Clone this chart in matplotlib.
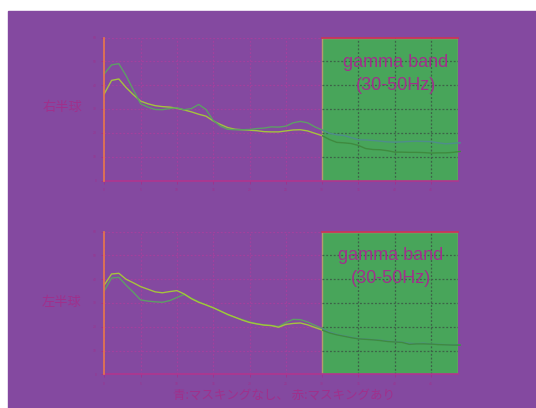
import numpy as np
import matplotlib
matplotlib.use("Agg")
import matplotlib.pyplot as plt
from matplotlib.patches import Rectangle

plt.rcParams['font.family'] = ['Noto Sans CJK JP', 'DejaVu Sans']

# Frequency axis (Hz)
freq = np.arange(0, 50)

# Right hemisphere spectra
right_no_mask = [4.48, 4.85, 4.90, 4.40, 3.80, 3.22, 3.08, 2.98, 2.97, 3.02,
                 3.05, 2.97, 3.02, 3.19, 2.98, 2.52, 2.28, 2.15, 2.13, 2.13,
                 2.14, 2.18, 2.20, 2.25, 2.24, 2.28, 2.42, 2.48, 2.42, 2.25,
                 2.12, 1.98, 1.92, 1.89, 1.80, 1.71, 1.70, 1.68, 1.65, 1.62,
                 1.61, 1.62, 1.64, 1.65, 1.64, 1.63, 1.58, 1.54, 1.56, 1.58]
right_mask = [3.64, 4.20, 4.26, 3.90, 3.60, 3.33, 3.22, 3.14, 3.10, 3.08,
              3.03, 2.96, 2.88, 2.78, 2.70, 2.50, 2.35, 2.22, 2.15, 2.13,
              2.11, 2.09, 2.05, 2.04, 2.04, 2.08, 2.12, 2.13, 2.08, 1.98,
              1.88, 1.72, 1.60, 1.58, 1.55, 1.47, 1.34, 1.30, 1.29, 1.25,
              1.19, 1.19, 1.18, 1.18, 1.17, 1.15, 1.16, 1.16, 1.18, 1.22]

# Left hemisphere spectra
left_no_mask = [3.52, 4.05, 4.08, 3.75, 3.45, 3.13, 3.08, 3.05, 3.03, 3.10,
                3.23, 3.36, 3.20, 3.05, 2.92, 2.80, 2.66, 2.50, 2.40, 2.30,
                2.20, 2.13, 2.08, 2.05, 2.01, 2.18, 2.31, 2.30, 2.20, 2.06,
                1.92, 1.78, 1.68, 1.62, 1.56, 1.50, 1.48, 1.46, 1.43, 1.40,
                1.37, 1.35, 1.30, 1.29, 1.31, 1.27, 1.26, 1.25, 1.24, 1.24]
left_mask = [3.76, 4.22, 4.25, 4.00, 3.85, 3.69, 3.58, 3.47, 3.43, 3.48,
             3.52, 3.38, 3.18, 3.03, 2.92, 2.80, 2.66, 2.52, 2.40, 2.28,
             2.18, 2.12, 2.07, 2.05, 1.98, 2.10, 2.14, 2.16, 2.08, 1.97,
             1.86, 1.74, 1.66, 1.60, 1.54, 1.49, 1.47, 1.45, 1.42, 1.38,
             1.36, 1.34, 1.26, 1.28, 1.28, 1.27, 1.25, 1.24, 1.23, 1.23]

panel_labels = ["右半球", "左半球"]
band_label = "gamma band\n(30-50Hz)"
caption = "青:マスキングなし、 赤:マスキングあり"
band_start = 30
x_max = 48.7
x_ticks = np.arange(0, 50, 5)
y_ticks = np.arange(0, 7, 1)

PURPLE = "#8449a0"
GREEN = "#48a55a"
MAGENTA = "#a0308c"
GRID_P = "#a3409e"
GRID_G = "#3d6248"
COL_NO_P, COL_MASK_P = "#5e9d66", "#a6c23e"
COL_NO_G, COL_MASK_G = "#4f8c8c", "#3f8a3f"

fig = plt.figure(figsize=(5.36, 4.08), dpi=100, facecolor="white")
fig.add_artist(Rectangle((8 / 536, 0), 1, (408 - 11) / 408,
                         transform=fig.transFigure, color=PURPLE, zorder=-10))

W, H = 536, 408
def ax_rect(left, top, right, bottom):
    return [left / W, 1 - bottom / H, (right - left) / W, (bottom - top) / H]

ax_top = fig.add_axes(ax_rect(104.3, 37.5, 458, 180.5))
ax_bot = fig.add_axes(ax_rect(104.3, 231.7, 458, 374.3))

panels = [
    (ax_top, right_no_mask, right_mask, (396, 74), 107),
    (ax_bot, left_no_mask, left_mask, (391, 267), 302),
]

for i, (ax, no_mask, mask, txt_pos, lab_y) in enumerate(panels):
    ax.set_facecolor("none")
    ax.set_xlim(0, x_max)
    ax.set_ylim(0, 6)
    ax.set_xticks(x_ticks)
    ax.set_yticks(y_ticks)
    ax.set_xticklabels([str(v) for v in x_ticks])
    ax.set_yticklabels([str(v * 10) for v in y_ticks])
    ax.tick_params(colors=MAGENTA, labelsize=2.5, length=2, width=0.6)
    ax.set_axisbelow(True)
    ax.grid(True, color=GRID_P, linestyle=(0, (1.5, 1.5)), linewidth=0.9)

    for side in ("top", "right"):
        ax.spines[side].set_visible(False)
    ax.spines["left"].set_color("#e8784a")
    ax.spines["left"].set_linewidth(1.2)
    ax.spines["bottom"].set_color("#b0358f")
    ax.spines["bottom"].set_linewidth(1.2)
    ax.spines["left"].set_zorder(6)

    # highlighted gamma band
    ax.add_patch(Rectangle((band_start, 0), x_max - band_start, 6,
                           facecolor=GREEN, edgecolor="#b49c6c",
                           linewidth=1.0, zorder=1))
    ax.plot([band_start, x_max], [6, 6], color="#c8365a", lw=1.3,
            zorder=2, clip_on=False)
    ax.hlines(y_ticks[1:-1], band_start, x_max, colors=GRID_G,
              linestyles=(0, (1.5, 1.5)), linewidth=0.9, zorder=1.5)
    ax.vlines(x_ticks[x_ticks > band_start], 0, 6, colors=GRID_G,
              linestyles=(0, (1.5, 1.5)), linewidth=0.9, zorder=1.5)

    clip_left = Rectangle((0, -1), band_start, 10, transform=ax.transData)
    clip_right = Rectangle((band_start, -1), 30, 10, transform=ax.transData)

    order = [(mask, COL_MASK_P, COL_MASK_G), (no_mask, COL_NO_P, COL_NO_G)]
    if i == 1:
        order = order[::-1]
    for series, cp, cg in order:
        l1, = ax.plot(freq, series, color=cp, lw=1.0, zorder=3)
        l1.set_clip_path(clip_left)
        l2, = ax.plot(freq, series, color=cg, lw=1.0, zorder=3)
        l2.set_clip_path(clip_right)

    fig.text(txt_pos[0] / W, 1 - txt_pos[1] / H, band_label,
             ha="center", va="center", fontsize=13, color=MAGENTA,
             family=["Liberation Sans", "DejaVu Sans"], linespacing=1.45)
    fig.text(62 / W, 1 - lab_y / H, panel_labels[i], ha="center",
             va="center", fontsize=9.5, color=MAGENTA)

fig.text(284 / W, 1 - 395 / H, caption, ha="center", va="center",
         fontsize=9, color=MAGENTA)

fig.savefig("out.png", dpi=100, facecolor="white")
